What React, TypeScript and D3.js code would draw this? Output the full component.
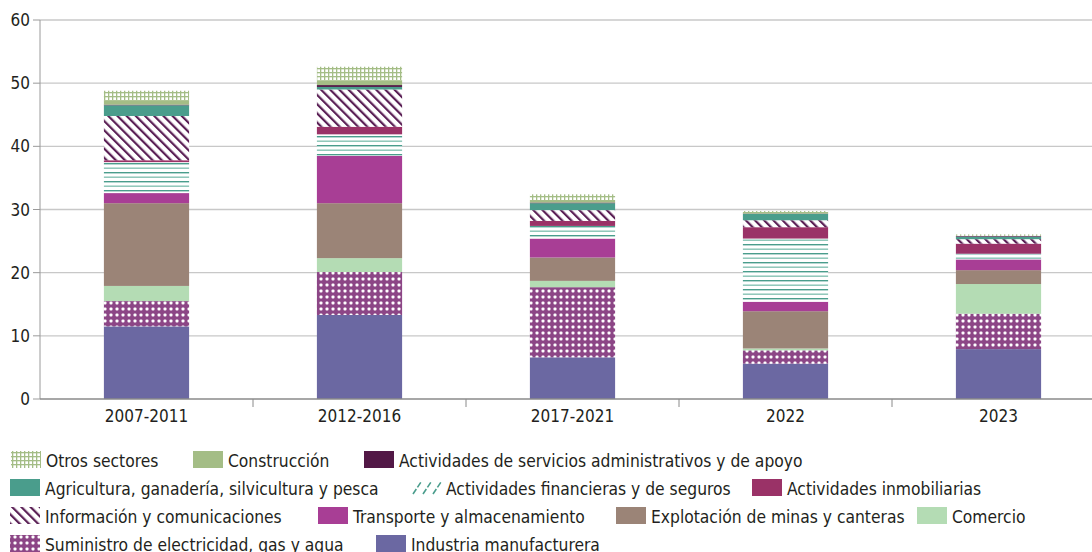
import * as d3 from 'd3';

const categories = ['2007-2011', '2012-2016', '2017-2021', '2022', '2023'];

// stacked bottom -> top
const industria = [11.5, 13.3, 6.6, 5.6, 7.9];
const suministro = [4.0, 6.8, 11.1, 2.1, 5.6];
const comercio = [2.4, 2.2, 1.0, 0.3, 4.7];
const explotacion = [13.1, 8.7, 3.7, 5.9, 2.2];
const transporte = [1.6, 7.5, 3.0, 1.5, 1.7];
const financieras = [4.9, 3.4, 2.0, 10.0, 0.9];
const inmobiliarias = [0.3, 1.2, 0.8, 1.8, 1.6];
const informacion = [7.0, 5.9, 1.7, 1.1, 0.7];
const agricultura = [1.7, 0.4, 1.1, 1.0, 0.4];
const administrativos = [0.1, 0.3, 0.1, 0.05, 0.1];
const construccion = [0.6, 0.7, 0.4, 0.1, 0.05];
const otros = [1.6, 2.2, 0.9, 0.3, 0.2];

const yTicks = [0, 10, 20, 30, 40, 50, 60];

const series = [
  { key: 'industria', label: 'Industria manufacturera', values: industria, fill: '#6b68a2' },
  { key: 'suministro', label: 'Suministro de electricidad, gas y agua', values: suministro, fill: 'url(#pDots)' },
  { key: 'comercio', label: 'Comercio', values: comercio, fill: '#b4dcb4' },
  { key: 'explotacion', label: 'Explotación de minas y canteras', values: explotacion, fill: '#9b8477' },
  { key: 'transporte', label: 'Transporte y almacenamiento', values: transporte, fill: '#a83e95' },
  { key: 'financieras', label: 'Actividades financieras y de seguros', values: financieras, fill: 'url(#pHoriz)' },
  { key: 'inmobiliarias', label: 'Actividades inmobiliarias', values: inmobiliarias, fill: '#9a3267' },
  { key: 'informacion', label: 'Información y comunicaciones', values: informacion, fill: 'url(#pDiag)' },
  { key: 'agricultura', label: 'Agricultura, ganadería, silvicultura y pesca', values: agricultura, fill: '#4a9d8c' },
  { key: 'administrativos', label: 'Actividades de servicios administrativos y de apoyo', values: administrativos, fill: '#521846' },
  { key: 'construccion', label: 'Construcción', values: construccion, fill: '#a4bd86' },
  { key: 'otros', label: 'Otros sectores', values: otros, fill: 'url(#pGrid)' },
];

// legend rows as shown (keys), with x of swatch
const legendRows = [
  [['otros', 11], ['construccion', 193], ['administrativos', 364]],
  [['agricultura', 10], ['financieras', 411], ['inmobiliarias', 752]],
  [['informacion', 10], ['transporte', 318], ['explotacion', 616], ['comercio', 917]],
  [['suministro', 10], ['industria', 376]],
];

const W = 1092;
const H = 552;
const FONT = "'DejaVu Sans', sans-serif";
const TEXT = '#231f20';

export default function App() {
  const x = d3.scaleBand<string>().domain(categories).range([40, 1105]).paddingInner(0.6).paddingOuter(0.3);
  const y = d3.scaleLinear().domain([0, 60]).range([399, 20]);

  const rows = categories.map((c, i) => {
    const r: any = { cat: c };
    series.forEach((s) => (r[s.key] = s.values[i]));
    return r;
  });
  const stacked = d3.stack().keys(series.map((s) => s.key))(rows);
  const byKey: any = {};
  series.forEach((s) => (byKey[s.key] = s));

  const swatch = (key: string, sx: number, sy: number) => {
    if (key === 'financieras') {
      return (
        <g>
          {[0, 10, 20].map((o) => (
            <line key={o} x1={sx + o + 2} y1={sy + 15} x2={sx + o + 10} y2={sy + 3} stroke="#4a9d8c" strokeWidth={1.6} strokeDasharray="6 2" />
          ))}
        </g>
      );
    }
    return <rect x={sx} y={sy} width={30} height={17} fill={byKey[key].fill} />;
  };

  return (
    <div style={{ position: 'absolute', left: 0, top: 0 }}>
      <svg width={W} height={H} style={{ display: 'block', fontFamily: FONT, fontStretch: 'condensed' }}>
        <defs>
          <pattern id="pDots" width={6} height={6} patternUnits="userSpaceOnUse">
            <rect width={6} height={6} fill="#8c4686" />
            <rect x={1.5} y={1.5} width={3} height={3} rx={1} fill="#ffffff" />
          </pattern>
          <pattern id="pHoriz" width={10} height={9} patternUnits="userSpaceOnUse">
            <rect width={10} height={9} fill="#ffffff" />
            <rect y={1} width={10} height={1.4} fill="#4a9d8c" />
            <rect y={5.5} width={10} height={1.4} fill="#86c2b4" />
          </pattern>
          <pattern id="pDiag" width={6.5} height={6.5} patternUnits="userSpaceOnUse" patternTransform="rotate(-45)">
            <rect width={6.5} height={6.5} fill="#ffffff" />
            <rect x={0} width={2.2} height={6.5} fill="#5a1f55" />
          </pattern>
          <pattern id="pGrid" width={4} height={4} patternUnits="userSpaceOnUse">
            <rect width={4} height={4} fill="#ffffff" />
            <rect x={0} width={1.3} height={4} fill="#a4bd86" />
            <rect y={0} width={4} height={1.3} fill="#a4bd86" />
          </pattern>
        </defs>

        {/* gridlines */}
        {yTicks.map((t) => (
          <g key={t}>
            {t > 0 && <line x1={40} x2={W} y1={y(t)} y2={y(t)} stroke="#c8c8c8" strokeWidth={1.3} />}
            <line x1={33} x2={40} y1={y(t)} y2={y(t)} stroke="#9a9a9a" strokeWidth={1} />
            <text x={30} y={y(t) + 6} textAnchor="end" fontSize={17} fill={TEXT}>{t}</text>
          </g>
        ))}
        <line x1={40} x2={40} y1={y(60)} y2={y(0)} stroke="#9a9a9a" strokeWidth={1} />

        {/* bars */}
        {stacked.map((layer: any) => (
          <g key={layer.key}>
            {layer.map((d: any, i: number) => {
              const h = y(d[0]) - y(d[1]);
              if (h <= 0) return null;
              return (
                <rect key={i} x={x(categories[i])} y={y(d[1])} width={x.bandwidth()} height={h} fill={byKey[layer.key].fill} />
              );
            })}
          </g>
        ))}

        {/* x axis */}
        <line x1={40} x2={W} y1={y(0)} y2={y(0)} stroke="#8a8a8a" strokeWidth={1.5} />
        {categories.map((c, i) => {
          const bx = (x(c) as number) - (x.step() * x.paddingInner()) / 2;
          return (
            <g key={c}>
              {i > 0 && <line x1={bx} x2={bx} y1={y(0)} y2={y(0) + 8} stroke="#8a8a8a" strokeWidth={1} />}
              <text x={(x(c) as number) + x.bandwidth() / 2} y={422} textAnchor="middle" fontSize={17} fill={TEXT}>{c}</text>
            </g>
          );
        })}

        {/* legend */}
        {legendRows.map((row, ri) => (
          <g key={ri}>
            {row.map(([k, sx]) => {
              const sy = 451 + ri * 28;
              return (
                <g key={k as string}>
                  {swatch(k as string, sx as number, sy)}
                  <text x={(sx as number) + 35} y={sy + 16} fontSize={17.3} fill={TEXT}>{byKey[k as string].label}</text>
                </g>
              );
            })}
          </g>
        ))}
      </svg>
    </div>
  );
}
